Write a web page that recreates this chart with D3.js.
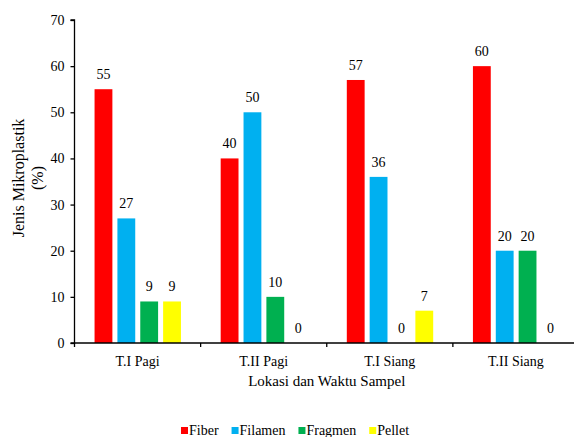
<!DOCTYPE html>
<html>
<head>
<meta charset="utf-8">
<script src="https://cdn.jsdelivr.net/npm/d3@7"></script>
<style>
  html, body { margin: 0; padding: 0; background: #fff; }
  svg { display: block; }
</style>
</head>
<body>
<svg id="chart" width="574" height="437"></svg>
<script>
const categories = ["T.I Pagi", "T.II Pagi", "T.I Siang", "T.II Siang"];
const seriesNames = ["Fiber", "Filamen", "Fragmen", "Pellet"];
const fiber   = [55, 40, 57, 60];
const filamen = [27, 50, 36, 20];
const fragmen = [9, 10, 0, 20];
const pellet  = [9, 0, 7, 0];
const yTicks = [0, 10, 20, 30, 40, 50, 60, 70];
const colors = ["#FF0000", "#00B0F0", "#00B050", "#FFFF00"];
const yTitle = ["Jenis Mikroplastik", "(%)"];
const xTitle = "Lokasi dan Waktu Sampel";

(function () {
const FONT = "Liberation Serif";
const seriesValues = [fiber, filamen, fragmen, pellet];
const svg = d3.select("#chart");

const mLeft = 74.5, mRight = 579, mTop = 20, mBottom = 343;

const x0 = d3.scaleBand().domain(categories).range([mLeft, mRight]).padding(0);
const B = x0.bandwidth();
const x1 = d3.scaleBand().domain(seriesNames)
  .range([B * 0.159, B * 0.844]).paddingInner(0.22).paddingOuter(0);
const y = d3.scaleLinear().domain([0, 70]).range([mBottom, mTop]);
const color = d3.scaleOrdinal().domain(seriesNames).range(colors);

const rows = [];
categories.forEach((c, i) => {
  seriesNames.forEach((s, j) => rows.push({ cat: c, series: s, value: seriesValues[j][i] }));
});

const g = svg.append("g");
g.selectAll("rect.bar").data(rows.filter(d => d.value > 0)).join("rect")
  .attr("class", "bar")
  .attr("x", d => x0(d.cat) + x1(d.series))
  .attr("y", d => y(d.value))
  .attr("width", x1.bandwidth())
  .attr("height", d => y(0) - y(d.value))
  .attr("fill", d => color(d.series));

g.selectAll("text.val").data(rows).join("text")
  .attr("class", "val")
  .attr("x", d => x0(d.cat) + x1(d.series) + x1.bandwidth() / 2)
  .attr("y", d => y(d.value) - 10)
  .attr("text-anchor", "middle")
  .attr("font-size", 14)
  .style("font-family", FONT)
  .attr("fill", "#000")
  .text(d => d.value);

// y axis
const yAxis = d3.axisLeft(y).tickValues(yTicks).tickSize(4).tickPadding(6).tickFormat(d3.format("d"));
const ya = svg.append("g").attr("transform", `translate(${mLeft},0)`).call(yAxis);
ya.select(".domain").attr("stroke", "#000").attr("stroke-width", 1.3).attr("d", `M-4,${mTop}H0V${mBottom}H-4`);
ya.selectAll(".tick line").attr("stroke", "#000").attr("stroke-width", 1.3);
ya.selectAll(".tick text").attr("font-size", 14).style("font-family", FONT).attr("fill", "#000");

// x axis
const xa = svg.append("g").attr("transform", `translate(0,${mBottom})`);
xa.append("line").attr("x1", mLeft).attr("x2", mRight).attr("y1", 0).attr("y2", 0)
  .attr("stroke", "#000").attr("stroke-width", 1.3);
const boundaries = categories.map(c => x0(c)).concat([x0(categories[categories.length - 1]) + B]);
xa.selectAll("line.tk").data(boundaries).join("line").attr("class", "tk")
  .attr("x1", d => d).attr("x2", d => d).attr("y1", 0).attr("y2", 4)
  .attr("stroke", "#000").attr("stroke-width", 1.3);
xa.selectAll("text.cat").data(categories).join("text").attr("class", "cat")
  .attr("x", d => x0(d) + B / 2).attr("y", 23)
  .attr("text-anchor", "middle").attr("font-size", 14)
  .style("font-family", FONT).attr("fill", "#000")
  .text(d => d);

// axis titles
svg.append("text").attr("x", (mLeft + mRight) / 2).attr("y", 386)
  .attr("text-anchor", "middle").attr("font-size", 15)
  .style("font-family", FONT).attr("fill", "#000").text(xTitle);

const yt = svg.append("g").attr("transform", "translate(0,178) rotate(-90)");
yt.selectAll("text").data(yTitle).join("text")
  .attr("x", 0).attr("y", (d, i) => 24 + i * 19)
  .attr("text-anchor", "middle").attr("font-size", 16)
  .style("font-family", FONT).attr("fill", "#000")
  .text(d => d);

// legend
const leg = svg.append("g").attr("transform", "translate(181,0)");
let cx = 0;
seriesNames.forEach((s) => {
  const it = leg.append("g").attr("transform", `translate(${cx},0)`);
  it.append("rect").attr("x", 0).attr("y", 427).attr("width", 7).attr("height", 7).attr("fill", color(s));
  const t = it.append("text").attr("x", 8).attr("y", 435).attr("font-size", 14)
    .style("font-family", FONT).attr("fill", "#000").text(s);
  cx += 8 + t.node().getComputedTextLength() + 13;
});
})();
</script>
</body>
</html>
